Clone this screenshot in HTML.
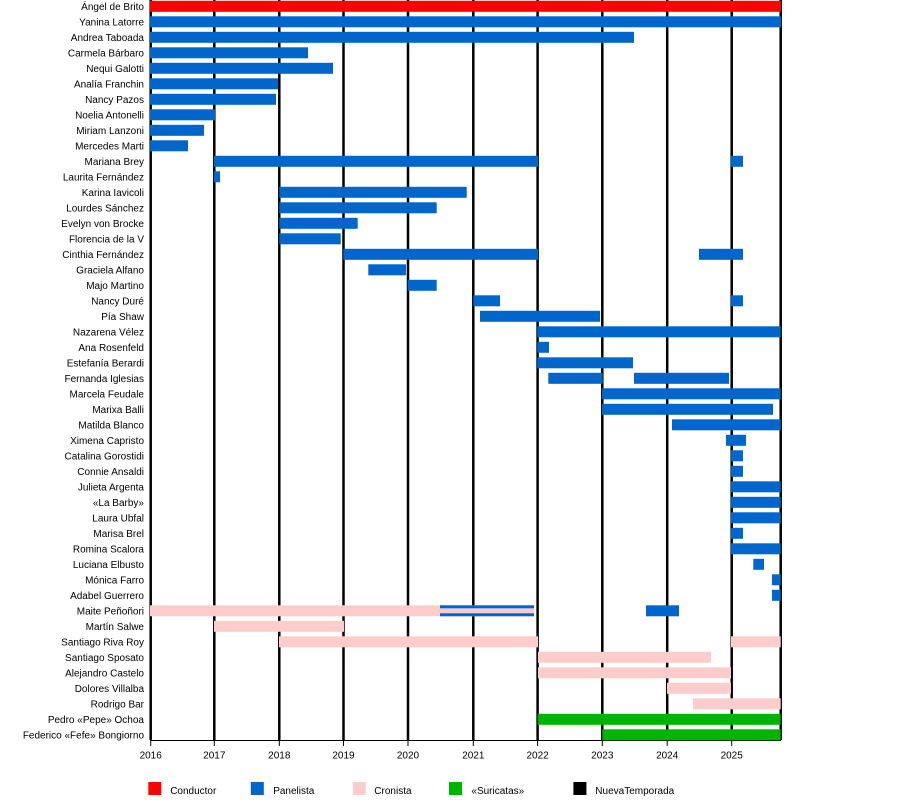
<!DOCTYPE html>
<html><head><meta charset="utf-8"><style>
html,body{margin:0;padding:0;background:#fff;}
svg{display:block;}
text{font-family:"Liberation Sans",Arial,sans-serif;font-size:10px;fill:#000;}
</style></head><body>
<svg width="900" height="800" viewBox="0 0 900 800" xmlns="http://www.w3.org/2000/svg">
<g stroke="#000" stroke-width="2.5">
<line x1="150.7" y1="0" x2="150.7" y2="740"/>
<line x1="214.3" y1="0" x2="214.3" y2="740"/>
<line x1="279.3" y1="0" x2="279.3" y2="740"/>
<line x1="343.5" y1="0" x2="343.5" y2="740"/>
<line x1="408" y1="0" x2="408" y2="740"/>
<line x1="473.3" y1="0" x2="473.3" y2="740"/>
<line x1="537.6" y1="0" x2="537.6" y2="740"/>
<line x1="602.3" y1="0" x2="602.3" y2="740"/>
<line x1="667.2" y1="0" x2="667.2" y2="740"/>
<line x1="731.7" y1="0" x2="731.7" y2="740"/>
<line x1="780.7" y1="0" x2="780.7" y2="740"/>
</g>
<g stroke="#000" stroke-width="1">
<line x1="150" y1="740.5" x2="781" y2="740.5"/>
<line x1="150.7" y1="740" x2="150.7" y2="746"/>
<line x1="214.3" y1="740" x2="214.3" y2="746"/>
<line x1="279.3" y1="740" x2="279.3" y2="746"/>
<line x1="343.5" y1="740" x2="343.5" y2="746"/>
<line x1="408" y1="740" x2="408" y2="746"/>
<line x1="473.3" y1="740" x2="473.3" y2="746"/>
<line x1="537.6" y1="740" x2="537.6" y2="746"/>
<line x1="602.3" y1="740" x2="602.3" y2="746"/>
<line x1="667.2" y1="740" x2="667.2" y2="746"/>
<line x1="731.7" y1="740" x2="731.7" y2="746"/>
</g>
<!-- bars: row i center = 6.3 + 15.5*i, bar y = c-5.5, h=11 -->
<g>
<rect x="150" y="0.8" width="631" height="11" fill="#ff0000"/>
<g fill="#0066cc">
<rect x="150" y="16.3" width="631" height="11"/>
<rect x="150" y="31.8" width="484" height="11"/>
<rect x="150" y="47.3" width="158" height="11"/>
<rect x="150" y="62.8" width="183" height="11"/>
<rect x="150" y="78.3" width="128" height="11"/>
<rect x="150" y="93.8" width="126" height="11"/>
<rect x="150" y="109.3" width="65" height="11"/>
<rect x="150" y="124.8" width="54" height="11"/>
<rect x="150" y="140.3" width="38" height="11"/>
<rect x="214" y="155.8" width="324" height="11"/>
<rect x="731" y="155.8" width="12" height="11"/>
<rect x="214" y="171.3" width="6" height="11"/>
<rect x="279.3" y="186.8" width="187.4" height="11"/>
<rect x="279.3" y="202.3" width="157.4" height="11"/>
<rect x="279.3" y="217.8" width="78.4" height="11"/>
<rect x="279.3" y="233.3" width="61.4" height="11"/>
<rect x="343.3" y="248.8" width="194.7" height="11"/>
<rect x="699" y="248.8" width="44" height="11"/>
<rect x="368.3" y="264.3" width="37.7" height="11"/>
<rect x="407.7" y="279.8" width="29" height="11"/>
<rect x="473.3" y="295.3" width="26.7" height="11"/>
<rect x="731" y="295.3" width="12" height="11"/>
<rect x="480" y="310.8" width="120" height="11"/>
<rect x="537.3" y="326.3" width="243.4" height="11"/>
<rect x="537.3" y="341.8" width="11.7" height="11"/>
<rect x="537.3" y="357.3" width="95.7" height="11"/>
<rect x="548.3" y="372.8" width="54.4" height="11"/>
<rect x="634" y="372.8" width="95" height="11"/>
<rect x="602" y="388.3" width="178.7" height="11"/>
<rect x="602" y="403.8" width="171" height="11"/>
<rect x="672" y="419.3" width="108.7" height="11"/>
<rect x="726" y="434.8" width="20" height="11"/>
<rect x="731" y="450.3" width="12" height="11"/>
<rect x="731" y="465.8" width="12" height="11"/>
<rect x="731" y="481.3" width="49.7" height="11"/>
<rect x="731" y="496.8" width="49.7" height="11"/>
<rect x="731" y="512.3" width="49.7" height="11"/>
<rect x="731" y="527.8" width="12" height="11"/>
<rect x="731" y="543.3" width="49.7" height="11"/>
<rect x="753.3" y="558.8" width="10.7" height="11"/>
<rect x="772" y="574.3" width="8.7" height="11"/>
<rect x="772" y="589.8" width="8.7" height="11"/>
</g>
<g fill="#ffcccc">
<rect x="150" y="605.3" width="384" height="11"/>
<rect x="214" y="620.8" width="130" height="11"/>
<rect x="279" y="636.3" width="259" height="11"/>
<rect x="731" y="636.3" width="49.7" height="11"/>
<rect x="538" y="651.8" width="173" height="11"/>
<rect x="538" y="667.3" width="193" height="11"/>
<rect x="667" y="682.8" width="64" height="11"/>
<rect x="693" y="698.3" width="87.7" height="11"/>
</g>
<g fill="#0066cc">
<rect x="440" y="605.3" width="94" height="3"/>
<rect x="440" y="613.3" width="94" height="3"/>
<rect x="646" y="605.3" width="33" height="11"/>
</g>
<g fill="#00b300">
<rect x="537.6" y="713.8" width="243.1" height="11"/>
<rect x="602.3" y="729.3" width="178.4" height="11"/>
</g>
</g>
<g text-anchor="end">
<text x="144" y="10">Ángel de Brito</text>
<text x="144" y="25.5">Yanina Latorre</text>
<text x="144" y="41">Andrea Taboada</text>
<text x="144" y="56.5">Carmela Bárbaro</text>
<text x="144" y="72">Nequi Galotti</text>
<text x="144" y="87.5">Analía Franchin</text>
<text x="144" y="103">Nancy Pazos</text>
<text x="144" y="118.5">Noelia Antonelli</text>
<text x="144" y="134">Miriam Lanzoni</text>
<text x="144" y="149.5">Mercedes Marti</text>
<text x="144" y="165">Mariana Brey</text>
<text x="144" y="180.5">Laurita Fernández</text>
<text x="144" y="196">Karina Iavicoli</text>
<text x="144" y="211.5">Lourdes Sánchez</text>
<text x="144" y="227">Evelyn von Brocke</text>
<text x="144" y="242.5">Florencia de la V</text>
<text x="144" y="258">Cinthia Fernández</text>
<text x="144" y="273.5">Graciela Alfano</text>
<text x="144" y="289">Majo Martino</text>
<text x="144" y="304.5">Nancy Duré</text>
<text x="144" y="320">Pía Shaw</text>
<text x="144" y="335.5">Nazarena Vélez</text>
<text x="144" y="351">Ana Rosenfeld</text>
<text x="144" y="366.5">Estefanía Berardi</text>
<text x="144" y="382">Fernanda Iglesias</text>
<text x="144" y="397.5">Marcela Feudale</text>
<text x="144" y="413">Marixa Balli</text>
<text x="144" y="428.5">Matilda Blanco</text>
<text x="144" y="444">Ximena Capristo</text>
<text x="144" y="459.5">Catalina Gorostidi</text>
<text x="144" y="475">Connie Ansaldi</text>
<text x="144" y="490.5">Julieta Argenta</text>
<text x="144" y="506">«La Barby»</text>
<text x="144" y="521.5">Laura Ubfal</text>
<text x="144" y="537">Marisa Brel</text>
<text x="144" y="552.5">Romina Scalora</text>
<text x="144" y="568">Luciana Elbusto</text>
<text x="144" y="583.5">Mónica Farro</text>
<text x="144" y="599">Adabel Guerrero</text>
<text x="144" y="614.5">Maite Peñoñori</text>
<text x="144" y="630">Martín Salwe</text>
<text x="144" y="645.5">Santiago Riva Roy</text>
<text x="144" y="661">Santiago Sposato</text>
<text x="144" y="676.5">Alejandro Castelo</text>
<text x="144" y="692">Dolores Villalba</text>
<text x="144" y="707.5">Rodrigo Bar</text>
<text x="144" y="723">Pedro «Pepe» Ochoa</text>
<text x="144" y="738.5">Federico «Fefe» Bongiorno</text>
</g>
<g text-anchor="middle">
<text x="150.7" y="758.5">2016</text>
<text x="214.3" y="758.5">2017</text>
<text x="279.3" y="758.5">2018</text>
<text x="343.5" y="758.5">2019</text>
<text x="408" y="758.5">2020</text>
<text x="473.3" y="758.5">2021</text>
<text x="537.6" y="758.5">2022</text>
<text x="602.3" y="758.5">2023</text>
<text x="667.2" y="758.5">2024</text>
<text x="731.7" y="758.5">2025</text>
</g>
<rect x="148.3" y="782" width="13" height="13" fill="#ff0000"/>
<text x="170.2" y="794">Conductor</text>
<rect x="250.8" y="782" width="13" height="13" fill="#0066cc"/>
<text x="273.2" y="794">Panelista</text>
<rect x="352.8" y="782" width="13" height="13" fill="#ffcccc"/>
<text x="374.3" y="794">Cronista</text>
<rect x="449" y="782" width="13" height="13" fill="#00b300"/>
<text x="471.4" y="794">«Suricatas»</text>
<rect x="573.4" y="782" width="13" height="13" fill="#000"/>
<text x="595.3" y="794">NuevaTemporada</text>
</svg>
</body></html>
